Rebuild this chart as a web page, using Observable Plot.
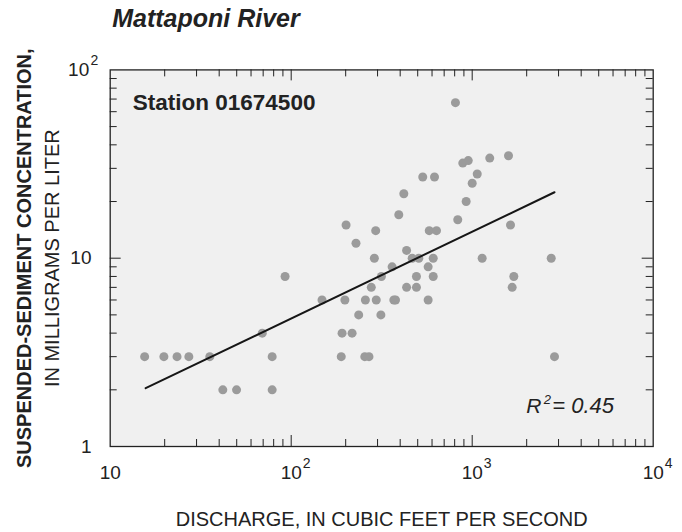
<!DOCTYPE html>
<html><head><meta charset="utf-8">
<script src="https://cdn.jsdelivr.net/npm/d3@7"></script>
<script src="https://cdn.jsdelivr.net/npm/@observablehq/plot@0.6"></script>
<style>
html,body{margin:0;padding:0;background:#fff;}
#chart{width:682px;height:532px;}
</style></head><body><div id="chart"></div>
<script>
// ---- text ----
const chartTitle = "Mattaponi River";
const stationLabel = "Station 01674500";
const xLabel = "DISCHARGE, IN CUBIC FEET PER SECOND";
const yLabelBold = "SUSPENDED-SEDIMENT CONCENTRATION,";
const yLabelPlain = "IN MILLIGRAMS PER LITER";
const r2Parts = ["R", "2", "= 0.45"];

// ---- observations (discharge ft3/s, concentration mg/L) ----
const discharge = [
  15.5, 19.8, 23.4, 27.2, 35.5, 78.5, 189, 255, 269, 2849,
  41.9, 49.9, 78.5,
  69.2, 191, 217,
  236, 313,
  148, 198, 257, 295, 369, 377, 571,
  277, 434, 492, 1663,
  92.5, 315, 492, 609, 1698,
  361, 571,
  288, 466, 507, 609, 1135, 2733,
  434, 228,
  293, 579, 635,
  201, 1628,
  832, 393, 926, 419, 1000,
  533, 619, 1066, 887, 951, 1250, 1587, 808
];
const concentration = [
  3, 3, 3, 3, 3, 3, 3, 3, 3, 3,
  2, 2, 2,
  4, 4, 4,
  5, 5,
  6, 6, 6, 6, 6, 6, 6,
  7, 7, 7, 7,
  8, 8, 8, 8, 8,
  9, 9,
  10, 10, 10, 10, 10, 10,
  11, 12,
  14, 14, 14,
  15, 15,
  16, 17, 20, 22, 25,
  27, 27, 28, 32, 33, 34, 35, 67
];

// ---- fitted regression line (end points) ----
const fitDischarge = [15.7, 2849];
const fitConcentration = [2.04, 22.4];

// ---- ticks ----
const xMajorTicks = [100, 1000];
const xMinorTicks = [20,30,40,50,60,70,80,90,200,300,400,500,600,700,800,900,2000,3000,4000,5000,6000,7000,8000,9000];
const yMajorTicks = [10];
const yMinorTicks = [2,3,4,5,6,7,8,9,20,30,40,50,60,70,80,90];
const xTickValues = [10, 100, 1000, 10000];
const xTickBase = ["10", "10", "10", "10"];
const xTickExp = ["", "2", "3", "4"];
const yTickValues = [1, 10, 100];
const yTickBase = ["1", "10", "10"];
const yTickExp = ["", "", "2"];

const points = discharge.map((q, i) => ({q, c: concentration[i]}));
const fit = fitDischarge.map((q, i) => ({q, c: fitConcentration[i]}));
const xLabels = xTickValues.map((v, i) => ({v, base: xTickBase[i], exp: xTickExp[i]}));
const yLabels = yTickValues.map((v, i) => ({v, base: yTickBase[i], exp: yTickExp[i]}));

const W = 682, H = 532;
const mL = 109.7, mR = 29.3, mT = 69.4, mB = 86;
const fw = W - mL - mR, fh = H - mT - mB;
const minor = 7, major = 11;
const ink = "#222";
const font = "'Liberation Sans', Arial, Helvetica, sans-serif";

const plot = Plot.plot({
  width: W, height: H,
  marginLeft: mL, marginRight: mR, marginTop: mT, marginBottom: mB,
  style: {fontFamily: font, background: "#fff", overflow: "visible"},
  x: {type: "log", domain: [10, 10000], axis: null},
  y: {type: "log", domain: [1, 100], axis: null},
  marks: [
    Plot.frame({fill: "#f0f0f0", stroke: null}),
    // inward ticks: bottom / top
    Plot.ruleX(xMinorTicks, {x: d => d, insetTop: fh - minor, stroke: ink, strokeWidth: 1}),
    Plot.ruleX(xMinorTicks, {x: d => d, insetBottom: fh - minor, stroke: ink, strokeWidth: 1}),
    Plot.ruleX(xMajorTicks, {x: d => d, insetTop: fh - major, stroke: ink, strokeWidth: 1}),
    Plot.ruleX(xMajorTicks, {x: d => d, insetBottom: fh - major, stroke: ink, strokeWidth: 1}),
    // inward ticks: left / right
    Plot.ruleY(yMinorTicks, {y: d => d, insetRight: fw - minor, stroke: ink, strokeWidth: 1}),
    Plot.ruleY(yMinorTicks, {y: d => d, insetLeft: fw - minor, stroke: ink, strokeWidth: 1}),
    Plot.ruleY(yMajorTicks, {y: d => d, insetRight: fw - major, stroke: ink, strokeWidth: 1}),
    Plot.ruleY(yMajorTicks, {y: d => d, insetLeft: fw - major, stroke: ink, strokeWidth: 1}),
    // data
    Plot.dot(points, {x: "q", y: "c", r: 4.5, fill: "#9b9b9b", stroke: null}),
    Plot.line(fit, {x: "q", y: "c", stroke: "#161616", strokeWidth: 2}),
    Plot.frame({stroke: ink, strokeWidth: 1.3}),
    // x tick labels
    Plot.text(xLabels, {x: "v", text: "base", frameAnchor: "bottom", textAnchor: "middle", lineAnchor: "bottom", dy: 32.3, fontSize: 19, fill: ink}),
    Plot.text(xLabels, {x: "v", text: "exp", frameAnchor: "bottom", textAnchor: "start", lineAnchor: "bottom", dx: 11.5, dy: 21.3, fontSize: 14, fill: ink}),
    // y tick labels
    Plot.text(yLabels.filter(d => !d.exp), {y: "v", text: "base", frameAnchor: "left", textAnchor: "end", lineAnchor: "middle", dx: -18.7, fontSize: 19, fill: ink}),
    Plot.text(yLabels.filter(d => d.exp), {y: "v", text: "base", frameAnchor: "left", textAnchor: "end", lineAnchor: "middle", dx: -21, fontSize: 19, fill: ink}),
    Plot.text(yLabels.filter(d => d.exp), {y: "v", text: "exp", frameAnchor: "left", textAnchor: "start", lineAnchor: "bottom", dx: -19.7, dy: -5.4, fontSize: 14, fill: ink}),
    // axis titles
    Plot.text([xLabel], {text: d => d, frameAnchor: "bottom", textAnchor: "middle", lineAnchor: "bottom", dy: 79, fontSize: 20, fill: ink}),
    Plot.text([yLabelBold], {text: d => d, frameAnchor: "left", rotate: -90, textAnchor: "middle", lineAnchor: "middle", dx: -85.7, fontSize: 20, fontWeight: "bold", fill: ink}),
    Plot.text([yLabelPlain], {text: d => d, frameAnchor: "left", rotate: -90, textAnchor: "middle", lineAnchor: "middle", dx: -58, fontSize: 20, fill: ink}),
    // annotations
    Plot.text([chartTitle], {text: d => d, frameAnchor: "top-left", textAnchor: "start", lineAnchor: "bottom", dx: 2, dy: -42.7, fontSize: 25, fontWeight: "bold", fontStyle: "italic", fill: ink}),
    Plot.text([stationLabel], {text: d => d, frameAnchor: "top-left", textAnchor: "start", lineAnchor: "bottom", dx: 22.6, dy: 39.9, fontSize: 22.5, fontWeight: "bold", fill: ink}),
    Plot.text([r2Parts[0]], {text: d => d, frameAnchor: "bottom-right", textAnchor: "start", lineAnchor: "bottom", dx: -127, dy: -33.3, fontSize: 21, fontStyle: "italic", fill: ink}),
    Plot.text([r2Parts[1]], {text: d => d, frameAnchor: "bottom-right", textAnchor: "start", lineAnchor: "bottom", dx: -109.5, dy: -43, fontSize: 13, fontStyle: "italic", fill: ink}),
    Plot.text([r2Parts[2]], {text: d => d, frameAnchor: "bottom-right", textAnchor: "start", lineAnchor: "bottom", dx: -101, dy: -33.3, fontSize: 22, fontStyle: "italic", fill: ink})
  ]
});
document.getElementById("chart").appendChild(plot);
</script></body></html>
